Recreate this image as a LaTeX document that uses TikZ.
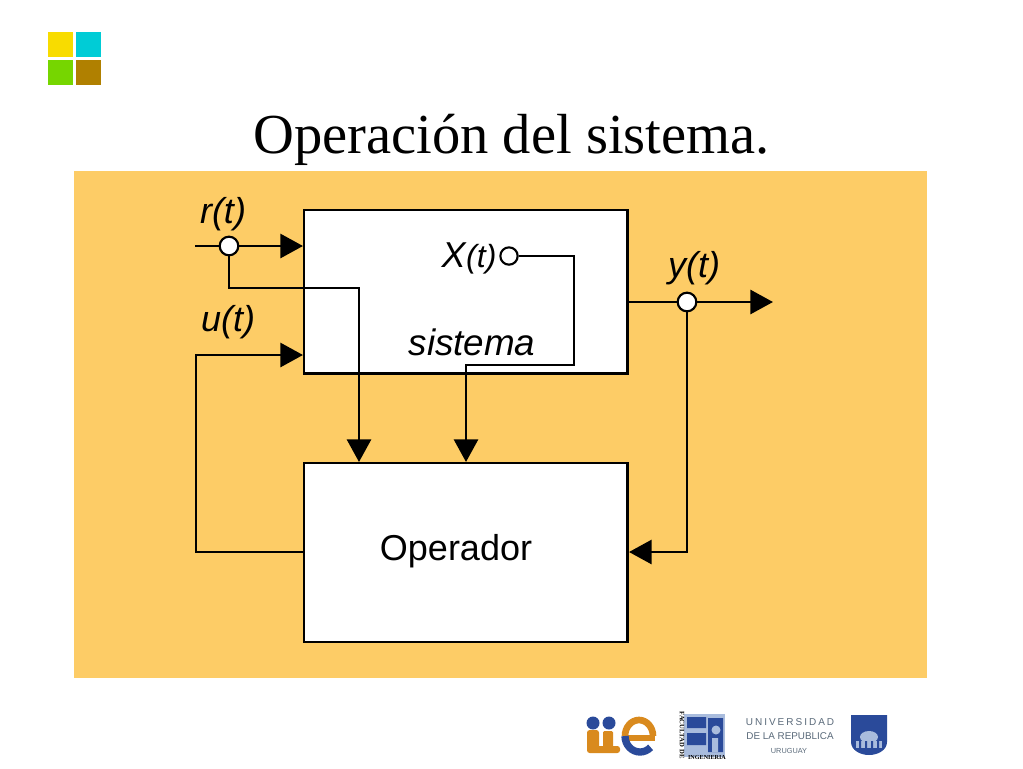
\documentclass[tikz,border=0pt]{standalone}
\usepackage{fontspec}
\setmainfont{Liberation Serif}
\newfontfamily\arialf{Liberation Sans}
\usetikzlibrary{arrows.meta,calc}
\definecolor{panel}{HTML}{FDCC66}
\definecolor{ywl}{HTML}{F8DC00}
\definecolor{cyn}{HTML}{00CCD6}
\definecolor{grn}{HTML}{76D600}
\definecolor{brn}{HTML}{B08000}
\definecolor{navy}{HTML}{2A4A9A}
\definecolor{orng}{HTML}{D98A1E}
\definecolor{lblue}{HTML}{A9BCDD}
\definecolor{gtxt}{HTML}{5A6A7A}
\tikzset{
 x=0.75pt,y=-0.75pt,
 blockbox/.style={draw=black,fill=white,line width=1.7pt,minimum width=242.5pt,anchor=north west,inner sep=0pt},
 wire/.style={draw=black,line width=2.2pt},
 arr/.style={wire,-{Triangle[length=17pt,width=18pt]}},
 junction/.style={circle,draw=black,fill=white,line width=1.6pt,minimum size=14pt,inner sep=0pt},
 smalljunction/.style={junction,minimum size=13pt},
 lbl/.style={font=\arialf\itshape\fontsize{27}{27}\selectfont,inner sep=0pt,text=black},
 swatch/.style={minimum size=18.4pt,inner sep=0pt,anchor=north west},
}
\begin{document}
\begin{tikzpicture}
\useasboundingbox (0,0) rectangle (1023,768);
\fill[white] (0,0) rectangle (1023,768);
% corner squares
\node[swatch,fill=ywl] (sa) at (48,32) {};
\node[swatch,fill=cyn] (sb) at (76,32) {};
\node[swatch,fill=grn] (sc) at (48,60) {};
\node[swatch,fill=brn] (sd) at (76,60) {};
\node[inner sep=0pt,anchor=base,font=\fontsize{42.4}{42.4}\selectfont] (title) at (511.5,153) {Operación del sistema.};
\fill[panel] (74,171) rectangle (927,678);
% blocks
\node[blockbox,minimum height=122.5pt] (sys) at (303,209) {};
\node[blockbox,minimum height=134pt] (op) at (303,462) {};
\node[lbl,font=\arialf\fontsize{27}{27}\selectfont] (optext) at (456,551) {Operador};
\node[lbl,font=\arialf\itshape\fontsize{27.6}{27.6}\selectfont] (sistema) at (472,342) {sistema};
\node[lbl] (xt) at (469,258) {X\kern0.5pt\fontsize{24}{24}\selectfont(t)};
\node[lbl] (rt) at (223,214) {r(t)};
\node[lbl] (ut) at (228,322) {u(t)};
\node[lbl] (yt) at (694,268) {y(t)};
% free ends
\coordinate (rin) at (195,246);
\coordinate (rbox) at (303,246);
\coordinate (ubox) at (303,355);
\coordinate (yout) at (773,302);
\coordinate (sysout) at (627,302);
\coordinate (opleft) at (303,552);
\coordinate (opright) at (629,552);
\coordinate (opr) at (359,462);
\coordinate (opx) at (466,462);
% junctions
\node[junction] (jr) at (229,246) {};
\node[junction] (jy) at (687,302) {};
\node[smalljunction] (jx) at (509,256) {};
% wires
\draw[wire] (rin) -- (jr);
\draw[arr] (jr) -- (rbox);
\draw[arr] (jr) |- (359,288) -- (opr);
\draw[arr] (jx) -- (574,256) -- (574,365) -- (466,365) -- (opx);
\draw[wire] (sysout) -- (jy);
\draw[arr] (jy) -- (yout);
\draw[arr] (jy) |- (opright);
\draw[arr] (opleft) -- (196,552) -- (196,355) -- (ubox);
% logos
\begin{scope}
% iie
\fill[orng,rounded corners=2pt] (587,730) rectangle (599,753) (587,746) rectangle (620,753);
\fill[orng,rounded corners=1pt] (603,731) rectangle (613,750);
\fill[navy] (593,723) circle (6.5) (609,723) circle (6.5);
\draw[orng,line width=4pt] (628,738) -- (655,738);
\draw[orng,line width=5pt] (625,736) arc[start angle=180,end angle=360,x radius=14,y radius=16];
\draw[navy,line width=5.5pt] (625,736) arc[start angle=180,end angle=45,x radius=15,y radius=16];
% FI
\fill[lblue] (684,714) rectangle (725,757);
\fill[navy] (687,717) rectangle (706,728) (687,733) rectangle (706,745) (708,718) rectangle (723,752);
\fill[lblue] (716,730) circle (4.5) (712,738) rectangle (718,752);
\node[font=\fontsize{5}{5}\bfseries,rotate=-90,inner sep=0pt,text width=42pt,align=center] (fac) at (682,735) {FACULTAD DE};
\node[font=\fontsize{4.6}{4.6}\bfseries,inner sep=0pt] (ing) at (707,757) {INGENIERIA};
% UdelaR
\node[font=\arialf\fontsize{7.5}{7.5}\selectfont,text=gtxt,inner sep=0pt] (u1) at (790,722) {U\kern1.5pt N\kern1.5pt I\kern1.5pt V\kern1.5pt E\kern1.5pt R\kern1.5pt S\kern1.5pt I\kern1.5pt D\kern1.5pt A\kern1.5pt D};
\node[font=\arialf\fontsize{7.4}{7.4}\selectfont,text=gtxt,inner sep=0pt] (u2) at (790,736) {DE LA REPUBLICA};
\node[font=\arialf\fontsize{5.5}{5.5}\selectfont,text=gtxt,inner sep=0pt] (u3) at (789,751) {URUGUAY};
% shield
\fill[navy] (851,715) -- (887,715) -- (887,742) .. controls (887,750) and (878,755) .. (869,755) .. controls (860,755) and (851,750) .. (851,742) -- cycle;
\fill[lblue] (856,741) rectangle (882,748);
\fill[lblue] (869,737) ellipse (9 and 6);
\fill[navy] (859,741) rectangle (861,748) (865,741) rectangle (867,748) (871,741) rectangle (873,748) (877,741) rectangle (879,748);
\end{scope}
\end{tikzpicture}
\end{document}
